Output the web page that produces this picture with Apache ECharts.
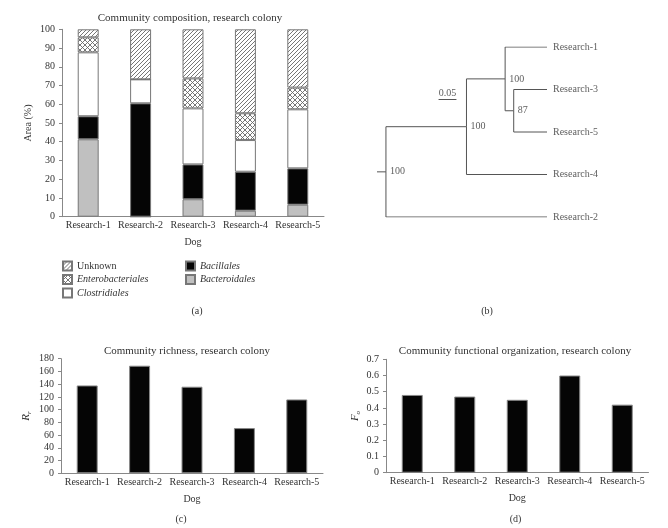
<!DOCTYPE html>
<html><head><meta charset="utf-8">
<script src="https://cdn.jsdelivr.net/npm/echarts@6/dist/echarts.min.js"></script>
<style>html,body{margin:0;padding:0;background:#fff}#c{width:668px;height:528px}</style>
</head><body><div id="c"></div>
<script>
// ---------- data ----------
const dogs = ['Research-1','Research-2','Research-3','Research-4','Research-5'];
const bacteroidales     = [41.3,  0.0,  9.3,  3.2,  6.4];
const bacillales        = [12.3, 60.5, 18.6, 20.8, 19.4];
const clostridiales     = [34.1, 12.8, 29.9, 16.9, 31.5];
const enterobacteriales = [ 8.0,  0.0, 16.0, 14.3, 11.6];
const unknown           = [ 4.3, 26.7, 26.2, 44.8, 31.1];
const richness      = [138, 169, 136, 71, 116];
const functionalOrg = [0.48, 0.47, 0.45, 0.60, 0.42];

// dendrogram (distance from root; all leaves at leafDepth)
const leafOrder = ['Research-1','Research-3','Research-5','Research-4','Research-2'];
const leafDepth = 0.45;
const rootStub = -0.025;
const clusters = [
  {id:'C',    children:['Research-3','Research-5'], depth:0.357, support:'87'},
  {id:'B',    children:['Research-1','C'],          depth:0.333, support:'100'},
  {id:'A',    children:['B','Research-4'],          depth:0.225, support:'100'},
  {id:'root', children:['A','Research-2'],          depth:0.0,   support:'100'}
];
const scaleBarLength = 0.05;
const scaleBarLabel = '0.05';
const scaleBarAt = [0.147, 1.23];

// ---------- helpers ----------
const FONT = '"Liberation Serif", "DejaVu Serif", serif';
const TXT = '#333';
const AX = '#888';

function makePattern(kind) {
  const s = kind === 'diag' ? 4 : 5;
  const c = document.createElement('canvas');
  c.width = s; c.height = s;
  const g = c.getContext('2d');
  g.fillStyle = '#fff'; g.fillRect(0,0,s,s);
  g.strokeStyle = '#666'; g.lineWidth = 0.9;
  g.beginPath();
  g.moveTo(-1, s+1); g.lineTo(s+1, -1);
  g.moveTo(-1, 1); g.lineTo(1, -1);
  g.moveTo(s-1, s+1); g.lineTo(s+1, s-1);
  if (kind === 'cross') {
    g.moveTo(-1, -1); g.lineTo(s+1, s+1);
    g.moveTo(s-1, -1); g.lineTo(s+1, 1);
    g.moveTo(-1, s-1); g.lineTo(1, s+1);
  }
  g.stroke();
  return {image: c, repeat: 'repeat'};
}

// dendrogram geometry
const pos = {};
leafOrder.forEach((n,i) => pos[n] = {x: leafDepth, y: i});
const branchLines = [];
const nodeLabels = [];
clusters.forEach(cl => {
  const ys = cl.children.map(ch => pos[ch].y);
  const y = (ys[0] + ys[1]) / 2;
  pos[cl.id] = {x: cl.depth, y: y};
  cl.children.forEach(ch => {
    branchLines.push({coords: [[cl.depth, y],[cl.depth, pos[ch].y],[pos[ch].x, pos[ch].y]]});
  });
  nodeLabels.push({value: [cl.depth, y], label: {formatter: cl.support}});
});
branchLines.push({coords: [[rootStub, pos.root.y],[0, pos.root.y]]});
const leafLabels = leafOrder.map((n,i) => ({value: [leafDepth, i], label: {formatter: n}}));

// ---------- chart ----------
const chart = echarts.init(document.getElementById('c'), null, {renderer: 'canvas'});

const catAxis = (gi, extra) => Object.assign({
  type: 'category', gridIndex: gi, data: dogs,
  axisLine: {lineStyle: {color: AX, width: 1}},
  axisTick: {show: false},
  axisLabel: {color: TXT, fontSize: 10, fontFamily: FONT, margin: 4, interval: 0},
  name: 'Dog', nameLocation: 'middle', nameGap: 21,
  nameTextStyle: {color: TXT, fontSize: 10, fontFamily: FONT}
}, extra || {});

const valAxis = (gi, min, max, interval, name, gap, extra) => Object.assign({
  type: 'value', gridIndex: gi, min: min, max: max, interval: interval,
  axisLine: {show: true, lineStyle: {color: AX, width: 1}},
  axisTick: {show: true, length: 3, lineStyle: {color: AX}},
  splitLine: {show: false},
  axisLabel: {color: TXT, fontSize: 10, fontFamily: FONT, margin: 7},
  name: name, nameLocation: 'middle', nameGap: gap,
  nameTextStyle: {color: TXT, fontSize: 10, fontFamily: FONT}
}, extra || {});

const stackSeries = (name, data, color) => ({
  name: name, type: 'bar', stack: 'comp', xAxisIndex: 0, yAxisIndex: 0,
  data: data, barWidth: '40%',
  itemStyle: {color: color, borderColor: '#777', borderWidth: 1},
  emphasis: {disabled: true}
});

const legendText = {
  color: TXT, fontSize: 10, fontFamily: FONT, lineHeight: 12,
  rich: {i: {fontStyle: 'italic', fontSize: 10, fontFamily: FONT, color: TXT}}
};
const legendFmt = n => n === 'Unknown' ? n : '{i|' + n + '}';

const gtext = (x, y, text, size) => ({
  type: 'text', x: x, y: y, silent: true,
  style: {text: text, font: (size||10) + 'px ' + FONT, fill: TXT, align: 'center', verticalAlign: 'middle'}
});

const subName = {
  color: TXT, fontFamily: FONT, rich: {
    i: {fontStyle: 'italic', fontSize: 11, fontFamily: FONT, color: TXT},
    s: {fontStyle: 'italic', fontSize: 7, fontFamily: FONT, color: TXT, padding: [6,0,0,0]}
  }
};

chart.setOption({
  animation: false,
  backgroundColor: '#fff',
  grid: [
    {left: 62,  top: 29.3,  width: 262,   height: 187.4},
    {left: 377, top: 47,    width: 170,   height: 170},
    {left: 61,  top: 358.7, width: 262,   height: 114.6},
    {left: 386, top: 359.3, width: 262.5, height: 113.4}
  ],
  xAxis: [
    catAxis(0),
    {type: 'value', gridIndex: 1, min: rootStub, max: leafDepth, show: false},
    catAxis(2),
    catAxis(3)
  ],
  yAxis: [
    valAxis(0, 0, 100, 10, 'Area (%)', 29),
    {type: 'value', gridIndex: 1, min: 0, max: 4, inverse: true, show: false},
    valAxis(2, 0, 180, 20, '{i|R}{s|r}', 28, {nameTextStyle: subName}),
    valAxis(3, 0, 0.7, 0.1, '{i|F}{s|o}', 24, {nameTextStyle: subName})
  ],
  legend: [
    {orient: 'vertical', left: 62, top: 260, padding: 0, itemWidth: 9, itemHeight: 9, itemGap: 1.5,
     icon: 'rect', selectedMode: false, data: ['Unknown','Enterobacteriales','Clostridiales'],
     textStyle: legendText, formatter: legendFmt},
    {orient: 'vertical', left: 185, top: 260, padding: 0, itemWidth: 9, itemHeight: 9, itemGap: 1.5,
     icon: 'rect', selectedMode: false, data: ['Bacillales','Bacteroidales'],
     textStyle: legendText, formatter: legendFmt}
  ],
  series: [
    stackSeries('Bacteroidales', bacteroidales, '#c0c0c0'),
    stackSeries('Bacillales', bacillales, '#050505'),
    stackSeries('Clostridiales', clostridiales, '#ffffff'),
    stackSeries('Enterobacteriales', enterobacteriales, makePattern('cross')),
    stackSeries('Unknown', unknown, makePattern('diag')),
    {
      type: 'lines', coordinateSystem: 'cartesian2d', xAxisIndex: 1, yAxisIndex: 1,
      polyline: true, silent: true, data: branchLines,
      lineStyle: {color: '#555', width: 1, opacity: 1}
    },
    {
      type: 'lines', coordinateSystem: 'cartesian2d', xAxisIndex: 1, yAxisIndex: 1,
      silent: true,
      data: [{coords: [scaleBarAt, [scaleBarAt[0] + scaleBarLength, scaleBarAt[1]]]}],
      lineStyle: {color: '#555', width: 1, opacity: 1}
    },
    {
      type: 'scatter', xAxisIndex: 1, yAxisIndex: 1, symbolSize: 0, silent: true,
      data: [{value: [scaleBarAt[0] + scaleBarLength/2, scaleBarAt[1]], label: {formatter: scaleBarLabel}}],
      label: {show: true, position: 'top', distance: 1, color: TXT, fontSize: 10, fontFamily: FONT}
    },
    {
      type: 'scatter', xAxisIndex: 1, yAxisIndex: 1, symbolSize: 0, silent: true,
      data: leafLabels,
      label: {show: true, position: 'right', distance: 6, color: TXT, fontSize: 10, fontFamily: FONT}
    },
    {
      type: 'scatter', xAxisIndex: 1, yAxisIndex: 1, symbolSize: 0, silent: true,
      data: nodeLabels,
      label: {show: true, position: 'right', distance: 4, color: TXT, fontSize: 10, fontFamily: FONT}
    },
    {
      type: 'bar', xAxisIndex: 2, yAxisIndex: 2, data: richness, barWidth: '40%',
      itemStyle: {color: '#050505', borderColor: '#888', borderWidth: 1}, emphasis: {disabled: true}
    },
    {
      type: 'bar', xAxisIndex: 3, yAxisIndex: 3, data: functionalOrg, barWidth: '40%',
      itemStyle: {color: '#050505', borderColor: '#888', borderWidth: 1}, emphasis: {disabled: true}
    }
  ],
  graphic: [
    gtext(190, 18.3, 'Community composition, research colony', 11),
    gtext(187, 350.7, 'Community richness, research colony', 11),
    gtext(515, 351, 'Community functional organization, research colony', 11),
    gtext(197, 311, '(a)', 10),
    gtext(487, 311, '(b)', 10),
    gtext(181, 519, '(c)', 10),
    gtext(515.5, 519, '(d)', 10)
  ]
});
</script>
</body></html>
